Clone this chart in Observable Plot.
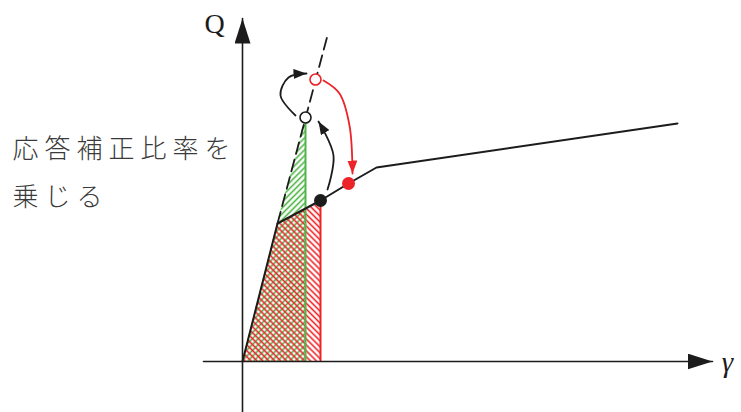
<!DOCTYPE html>
<html>
<head>
<meta charset="utf-8">
<script src="https://cdn.jsdelivr.net/npm/d3@7"></script>
<script src="https://cdn.jsdelivr.net/npm/@observablehq/plot@0.6"></script>
<style>
  html, body { margin: 0; padding: 0; background: #fff; }
  #chart svg { display: block; }
</style>
</head>
<body>
<div id="chart"></div>
<script>
// Schematic Q–γ skeleton (arbitrary units, origin at the axes' crossing)
const skeletonX = [0, 35, 78, 106, 134, 435];
const skeletonY = [0, 138, 161, 178, 194, 238];

// elastic-line extension (dashed)
const elasticX = [35, 85];
const elasticY = [138, 326];

// hatched regions (upper boundaries)
const greenTopX = [0, 35, 63];
const greenTopY = [0, 138, 244];
const redTopX = [0, 35, 78];
const redTopY = [0, 138, 161];

// response points
const openPtsX = [63, 73];
const openPtsY = [244, 282];
const openPtsColor = ["black", "red"];
const filledPtsX = [78, 106];
const filledPtsY = [161, 178];
const filledPtsColor = ["black", "red"];

// curved arrows
const arrowAX = [85, 91, 76];
const arrowAY = [172, 206, 240];
const arrowBX = [53, 38, 46, 64];
const arrowBY = [246, 266, 284, 288];
const arrowCX = [81, 97, 107, 110];
const arrowCY = [281, 268, 236, 188];

// axes extents
const axisYX = [0, 0];
const axisYY = [-51, 343];
const axisXX = [-39, 470];
const axisXY = [0, 0];

// labels
const jpLines = ["応答補正比率を", "乗じる"];
const jpX = [-230, -230];
const jpY = [212, 164];

const RED = "#ec2327";
const GREEN = "#4fb548";
const INK = "#1c1c1c";
const AXIS_INK = "#1c1c1d";   // same ink, distinct tag for axis arrowheads
const ARROW_INK = "#1c1c1e";  // same ink, distinct tag for curved arrows
const ARROW_RED = "#ec2328";
const colorOf = c => (c === "red" ? RED : INK);

const pts = (xs, ys) => xs.map((x, i) => ({x, y: ys[i]}));

const svg = Plot.plot({
  width: 741,
  height: 412,
  margin: 0,
  x: {domain: [-242, 499], axis: null},
  y: {domain: [-51, 361], axis: null},
  style: {background: "white"},
  marks: [
    Plot.areaY(pts(greenTopX, greenTopY), {x: "x", y: "y", fill: "url(#hatchGreen)"}),
    Plot.areaY(pts(redTopX, redTopY), {x: "x", y: "y", fill: "url(#hatchRed)"}),
    Plot.ruleX([{x: greenTopX[2], y: greenTopY[2]}], {x: "x", y1: 0, y2: "y", stroke: GREEN, strokeWidth: 2}),
    Plot.ruleX([{x: redTopX[2], y: redTopY[2]}], {x: "x", y1: 0, y2: "y", stroke: RED, strokeWidth: 2}),
    Plot.line(pts(axisYX, axisYY), {x: "x", y: "y", stroke: AXIS_INK, strokeWidth: 1.6}),
    Plot.line(pts(axisXX, axisXY), {x: "x", y: "y", stroke: AXIS_INK, strokeWidth: 1.6}),
    Plot.line(pts(elasticX, elasticY), {x: "x", y: "y", stroke: INK, strokeWidth: 1.8, strokeDasharray: "12,6"}),
    Plot.line(pts(skeletonX, skeletonY), {x: "x", y: "y", stroke: INK, strokeWidth: 2}),
    Plot.line(pts(arrowAX, arrowAY), {x: "x", y: "y", curve: "catmull-rom", stroke: ARROW_INK, strokeWidth: 1.8}),
    Plot.line(pts(arrowBX, arrowBY), {x: "x", y: "y", curve: "catmull-rom", stroke: ARROW_INK, strokeWidth: 1.8}),
    Plot.line(pts(arrowCX, arrowCY), {x: "x", y: "y", curve: "catmull-rom", stroke: ARROW_RED, strokeWidth: 1.8}),
    Plot.dot(openPtsX.map((x, i) => ({x, y: openPtsY[i], c: openPtsColor[i]})),
      {x: "x", y: "y", r: 5.5, fill: "white", stroke: d => colorOf(d.c), strokeWidth: 1.6}),
    Plot.dot(filledPtsX.map((x, i) => ({x, y: filledPtsY[i], c: filledPtsColor[i]})),
      {x: "x", y: "y", r: 6.5, fill: d => colorOf(d.c), stroke: "none"}),
    Plot.text(jpLines.map((t, i) => ({t, x: jpX[i], y: jpY[i]})),
      {x: "x", y: "y", text: "t", textAnchor: "start", fontSize: 26, fill: "#3a3a3a",
       fontFamily: "'Noto Sans CJK JP', sans-serif", fontWeight: 300}),
    Plot.text([{t: "Q", x: -28, y: 337}], {x: "x", y: "y", text: "t", fontSize: 28, fill: INK,
       fontWeight: 400, fontFamily: "'Liberation Serif', 'DejaVu Serif', serif"}),
    Plot.text([{t: "γ", x: 485, y: -1}], {x: "x", y: "y", text: "t", fontSize: 29, fill: INK,
       fontWeight: 400, fontStyle: "italic", fontFamily: "'Liberation Serif', 'DejaVu Serif', serif"})
  ]
});

// patterns and arrowheads
const root = d3.select(svg);
const defs = root.insert("defs", ":first-child");
function hatch(id, color, angle) {
  const p = defs.append("pattern").attr("id", id).attr("patternUnits", "userSpaceOnUse")
    .attr("width", 4.2).attr("height", 4.2).attr("patternTransform", `rotate(${angle})`);
  p.append("line").attr("x1", 2.1).attr("y1", -1).attr("x2", 2.1).attr("y2", 5.2)
    .attr("stroke", color).attr("stroke-width", 1.6);
}
hatch("hatchGreen", GREEN, 45);
hatch("hatchRed", RED, -45);
function head(id, color, len, wid) {
  defs.append("marker").attr("id", id).attr("markerUnits", "userSpaceOnUse")
    .attr("viewBox", `0 0 ${len} ${wid}`).attr("markerWidth", len).attr("markerHeight", wid)
    .attr("refX", len).attr("refY", wid / 2).attr("orient", "auto")
    .append("path").attr("d", `M0,0L${len},${wid / 2}L0,${wid}Z`).attr("fill", color);
}
head("axisHead", INK, 25, 16);
head("headBlack", INK, 13, 10);
head("headRed", RED, 13, 10);
function tag(color, marker) {
  root.selectAll("g").filter(function () { return this.getAttribute("stroke") === color; })
    .selectAll("path").attr("marker-end", `url(#${marker})`);
}
tag(AXIS_INK, "axisHead");
tag(ARROW_INK, "headBlack");
tag(ARROW_RED, "headRed");
root.selectAll("g").filter(function () { return this.getAttribute("font-size") === "26"; })
  .selectAll("text").style("letter-spacing", "6px");

document.getElementById("chart").appendChild(svg);
</script>
</body>
</html>
